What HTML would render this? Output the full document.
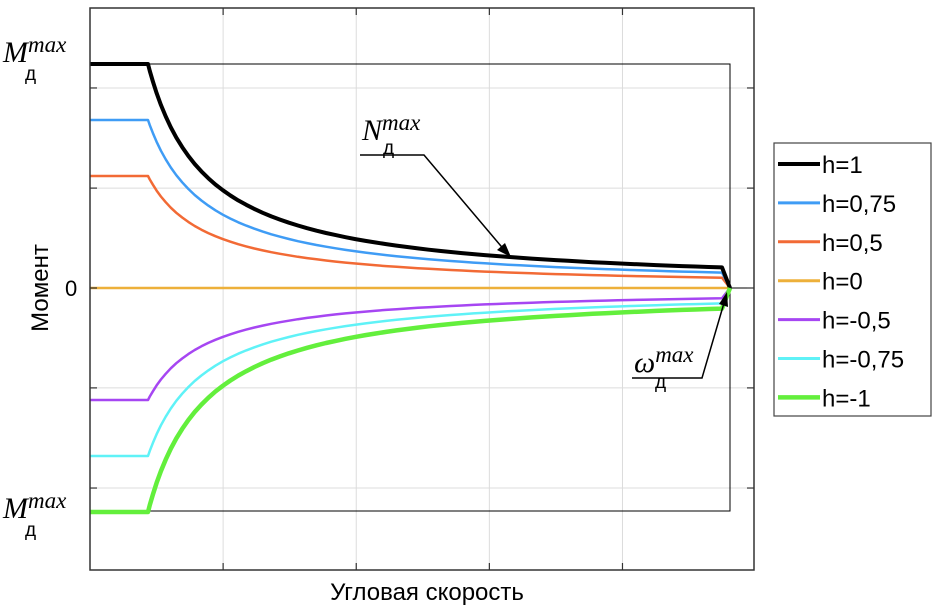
<!DOCTYPE html>
<html><head><meta charset="utf-8"><style>
html,body{margin:0;padding:0;background:#fff;}
svg{display:block;font-family:"Liberation Sans",sans-serif;}
.it{font-family:"Liberation Serif","DejaVu Serif",serif;font-style:italic;}
.cy{font-family:"Liberation Sans","DejaVu Sans",sans-serif;}
</style></head><body>
<svg id="chart" width="939" height="608" viewBox="0 0 939 608">
<g id="grid"></g>
<rect x="90" y="64" width="640" height="447" fill="none" stroke="#000" stroke-width="1"/>
<g id="series"></g>
<rect x="90" y="8" width="664" height="562" fill="none" stroke="#333" stroke-width="1.5"/>
<g id="ticks"></g>

<text x="3" y="62" class="it" font-size="30">M<tspan font-size="23" dy="-10">max</tspan></text>
<text x="25" y="80" class="cy" font-size="19">д</text>
<text x="3" y="518" class="it" font-size="30">M<tspan font-size="23" dy="-10">max</tspan></text>
<text x="25" y="536" class="cy" font-size="19">д</text>
<text x="65" y="296" font-size="22">0</text>
<text transform="translate(48,288) rotate(-90)" text-anchor="middle" font-size="24" class="cy">Момент</text>
<text x="427" y="600" text-anchor="middle" font-size="24" class="cy">Угловая скорость</text>

<g>
<text x="362" y="140" class="it" font-size="30">N<tspan font-size="23" dy="-10">max</tspan></text>
<text x="383" y="154" class="cy" font-size="19">д</text>
<polyline points="360,155 424,155 506,252" fill="none" stroke="#000" stroke-width="1.5"/>
<polygon points="511,257 497,250 505,243" fill="#000"/>
</g>
<g>
<text x="634" y="372" class="it" font-size="30">ω<tspan font-size="23" dy="-10">max</tspan></text>
<text x="655" y="378" class="cy" font-size="19" dy="10">д</text>
<polyline points="632,378 702,378 724,303" fill="none" stroke="#000" stroke-width="1.5"/>
<polygon points="727,292 728,307 719,304" fill="#000"/>
</g>

<g id="legend">
<rect x="774" y="143" width="157" height="273" fill="#fff" stroke="#444" stroke-width="1.2"/>
</g>
</svg>
<script>
const hValues = [1, 0.75, 0.5, 0, -0.5, -0.75, -1];
const seriesLabels = ["h=1","h=0,75","h=0,5","h=0","h=-0,5","h=-0,75","h=-1"];
const seriesColors = ["#000000","#3f9cf5","#f26a35","#edb03a","#a646f2","#5ff2f7","#63ef3c"];
const seriesWidths = [4,2.5,2.5,2.5,2.5,2.5,4.5];
const omegaCorner = 0.0906;   // base speed (fraction of ω max)
const omegaEnd = 0.9875;      // last point before drop
const xGrid = [0.208, 0.416, 0.624, 0.832];
const yGrid = [0.893, 0.446, 0, -0.446, -0.893];

const X0 = 90, XS = 640, Y0 = 288, YS = 224;
const sx = v => X0 + v * XS;
const sy = v => Y0 - v * YS;
const NS = "http://www.w3.org/2000/svg";
const grid = document.getElementById('grid');
const ticks = document.getElementById('ticks');
function mk(tag, attrs, parent){const e=document.createElementNS(NS,tag);for(const k in attrs)e.setAttribute(k,attrs[k]);parent.appendChild(e);return e;}

xGrid.forEach(v=>{
  const g = mk('line',{x1:sx(v),x2:sx(v),y1:8,y2:570,stroke:'#dcdcdc','stroke-width':1},grid);
  
  
  const t = mk('line',{x1:sx(v),x2:sx(v),y1:570,y2:563,stroke:'#333','stroke-width':1.2},ticks);
  
  
  const t2 = mk('line',{x1:sx(v),x2:sx(v),y1:8,y2:15,stroke:'#333','stroke-width':1.2},ticks);
  
  
});
yGrid.forEach(v=>{
  const g = mk('line',{x1:90,x2:754,y1:sy(v),y2:sy(v),stroke:v===0?'#000':'#dcdcdc','stroke-width':1},grid);
  
  
  const t = mk('line',{x1:90,x2:97,y1:sy(v),y2:sy(v),stroke:'#333','stroke-width':1.2},ticks);
  
  
  const t2 = mk('line',{x1:754,x2:747,y1:sy(v),y2:sy(v),stroke:'#333','stroke-width':1.2},ticks);
  
  
});

const series = document.getElementById('series');
const order = [3,2,1,4,5,0,6];
order.forEach(i=>{
  const h = hValues[i];
  const pts = [[0,h],[omegaCorner,h]];
  for(let k=1;k<=60;k++){
    const w = omegaCorner + (omegaEnd-omegaCorner)*Math.pow(k/60,1.4);
    pts.push([w, h*omegaCorner/w]);
  }
  pts.push([1,0]);
  const p = mk('polyline',{points:pts.map(p=>sx(p[0]).toFixed(1)+','+sy(p[1]).toFixed(1)).join(' '),fill:'none',stroke:seriesColors[i],'stroke-width':seriesWidths[i],'stroke-linejoin':'round'},series);
  
  
});

const legend = document.getElementById('legend');
seriesLabels.forEach((lab,i)=>{
  const y = 164 + i*38.9;
  const l = mk('line',{x1:778,x2:820,y1:y,y2:y,stroke:seriesColors[i],'stroke-width':Math.max(3,seriesWidths[i])},legend);
  
  
  const t = mk('text',{x:822,y:y+9,'font-size':24},legend);
  t.textContent = lab;
  
  
});
</script>
</body></html>
